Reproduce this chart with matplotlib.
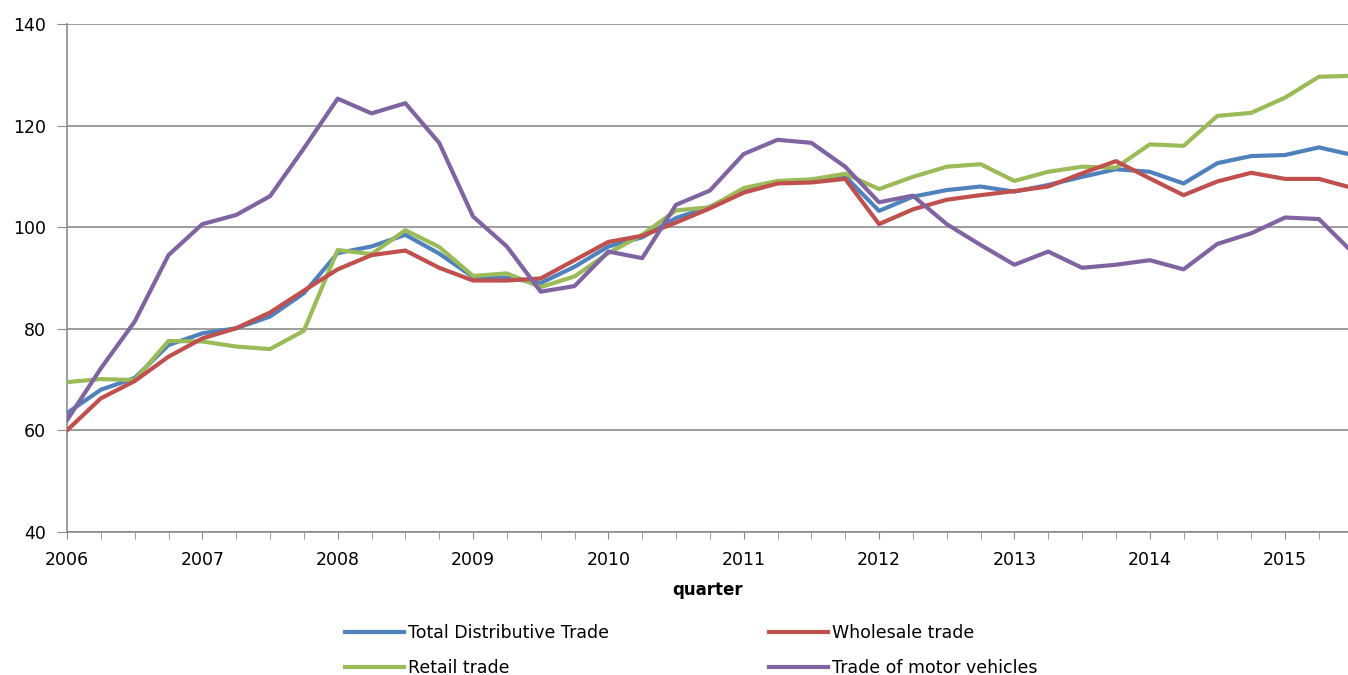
import numpy as np
import matplotlib
matplotlib.use("Agg")
import matplotlib.pyplot as plt

# quarterly index values, 2006 Q1 .. 2015 Q3
years = list(range(2006, 2016))
total = [63.4, 68.0, 70.3, 76.8, 79.1, 80.1, 82.4, 87.0,
         94.9, 96.2, 98.5, 94.8, 90.2, 90.0, 89.0, 92.2,
         96.2, 98.0, 101.8, 104.0, 107.3, 109.0, 109.3, 110.0,
         103.2, 106.0, 107.3, 108.0, 107.0, 108.3, 109.9, 111.4,
         110.9, 108.6, 112.6, 114.0, 114.2, 115.7, 114.2]
wholesale = [60.0, 66.3, 69.7, 74.5, 78.1, 80.1, 83.2, 87.5,
             91.7, 94.5, 95.4, 92.0, 89.5, 89.5, 89.9, 93.5,
             97.1, 98.3, 100.9, 103.7, 106.8, 108.6, 108.8, 109.5,
             100.6, 103.5, 105.4, 106.3, 107.1, 108.0, 110.6, 113.0,
             109.6, 106.3, 109.0, 110.7, 109.5, 109.5, 107.7]
retail = [69.5, 70.1, 69.9, 77.6, 77.5, 76.5, 76.0, 79.6,
          95.5, 94.7, 99.4, 96.1, 90.4, 90.9, 88.2, 90.3,
          94.9, 98.5, 103.3, 103.9, 107.7, 109.1, 109.4, 110.5,
          107.5, 109.9, 111.9, 112.4, 109.1, 110.9, 111.9, 111.7,
          116.3, 116.0, 121.9, 122.5, 125.5, 129.6, 129.8]
motor = [62.0, 72.2, 81.4, 94.5, 100.6, 102.4, 106.1, 115.5,
         125.3, 122.4, 124.4, 116.6, 102.1, 96.2, 87.3, 88.4,
         95.2, 93.9, 104.4, 107.2, 114.4, 117.2, 116.6, 111.9,
         104.9, 106.2, 100.6, 96.5, 92.6, 95.2, 92.0, 92.6,
         93.5, 91.7, 96.7, 98.8, 101.9, 101.6, 95.0]

plt.rcParams['font.family'] = ['DejaVu Sans']

fig = plt.figure(figsize=(13.48, 6.75), dpi=100)
ax = fig.add_axes([0.0497, 0.2119, 0.9503, 0.7526])

q = np.arange(len(total))
ax.plot(q, total, color='#4F81BD', lw=3, label='Total Distributive Trade', zorder=3)
ax.plot(q, retail, color='#9BBB59', lw=3, label='Retail trade', zorder=3)
ax.plot(q, wholesale, color='#C0504D', lw=3, label='Wholesale trade', zorder=3)
ax.plot(q, motor, color='#8064A2', lw=3, label='Trade of motor vehicles', zorder=3)

ax.set_xlim(0, 37.86)
ax.set_ylim(40, 140)
ax.set_yticks(range(40, 141, 20))
ax.set_xticks(np.arange(0, 38, 4))
ax.set_xticklabels([str(y) for y in years])
ax.set_xticks(np.arange(0, 38, 1), minor=True)

ax.grid(axis='y', color='#8c8c8c', lw=1.2, zorder=0)
for s in ['top', 'right']:
    ax.spines[s].set_visible(False)
for s in ['left', 'bottom']:
    ax.spines[s].set_color('#8c8c8c')
    ax.spines[s].set_linewidth(1.2)
ax.tick_params(axis='y', length=7, color='#8c8c8c', labelsize=12.5, pad=8)
ax.tick_params(axis='x', which='both', length=5, color='#8c8c8c', labelsize=12.5, pad=9)
ax.tick_params(axis='x', which='minor', labelbottom=False)

ax.set_xlabel('quarter', fontsize=12, fontweight='bold', labelpad=8)

fig.legend(loc='center', bbox_to_anchor=(0.5126, 0.0363), ncol=2, frameon=False,
           fontsize=12.5, handlelength=3.45, handletextpad=0.2, columnspacing=9.2,
           labelspacing=1.0, borderpad=0, borderaxespad=0)

fig.savefig('out.png', dpi=100)
